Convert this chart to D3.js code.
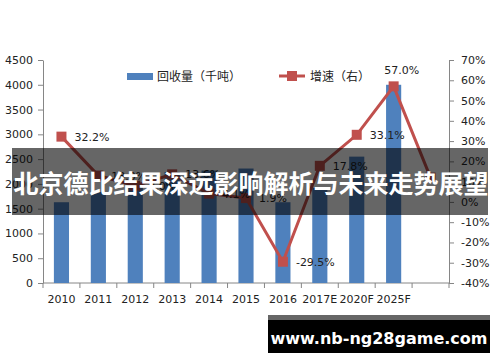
<!DOCTYPE html>
<html lang="zh">
<head>
<meta charset="utf-8">
<title>回收量与增速</title>
<script src="https://d3js.org/d3.v7.min.js"></script>
<style>
  body { margin: 0; background: #fff; }
  svg text { font-family: "DejaVu Sans", sans-serif; fill: #222; }
  .cjk { font-family: "Noto Sans CJK SC", sans-serif; }
  .axis path, .axis line { stroke: #868686; }
</style>
</head>
<body>
<script>
// data (the last slot has no label and no bar)
const years = ["2010", "2011", "2012", "2013", "2014", "2015", "2016", "2017E", "2020F", "2025F", ""];
const volume = [1630, 1840, 1990, 2240, 2270, 2310, 1630, 1920, 2550, 4000, null];
const growth = [32.2, 13.0, 8.0, 13.6, 4.1, 1.9, -29.5, 17.8, 33.1, 57.0, 12.0];
const leftTicks = [0, 500, 1000, 1500, 2000, 2500, 3000, 3500, 4000, 4500];
const rightTicks = [-40, -30, -20, -10, 0, 10, 20, 30, 40, 50, 60, 70];

const w = 500, h = 362;
const plotL = 43, plotR = 449, plotT = 60, plotB = 283;

const svg = d3.select("body").append("svg")
    .attr("width", w)
    .attr("height", h);

const x = d3.scaleBand()
    .domain(d3.range(years.length))
    .range([plotL, plotR]);

const yL = d3.scaleLinear().domain([0, 4500]).range([plotB, plotT]);
const yR = d3.scaleLinear().domain([-40, 70]).range([plotB, plotT]);

//axes
const leftAxis = d3.axisLeft(yL).tickValues(leftTicks).tickFormat(d3.format("d"))
    .tickSize(5).tickPadding(5).tickSizeOuter(0);
svg.append("g")
    .attr("class", "axis")
    .attr("transform", "translate(" + plotL + ",0)")
    .call(leftAxis)
    .selectAll("text").attr("font-size", 11);

const rightAxis = d3.axisRight(yR).tickValues(rightTicks).tickFormat(d => d + "%")
    .tickSize(5).tickPadding(7).tickSizeOuter(0);
svg.append("g")
    .attr("class", "axis")
    .attr("transform", "translate(" + plotR + ",0)")
    .call(rightAxis)
    .selectAll("text").attr("font-size", 11);

const bottomAxis = d3.axisBottom(x).tickFormat(i => years[i]).tickSize(0).tickPadding(12);
const gx = svg.append("g")
    .attr("class", "axis")
    .attr("transform", "translate(0," + plotB + ")")
    .call(bottomAxis);
gx.selectAll("text").attr("font-size", 11);
gx.select(".domain").attr("d", "M" + plotL + ",0H" + plotR);
// tick marks on category boundaries
gx.selectAll(".sep")
    .data(d3.range(years.length + 1))
    .join("line")
    .attr("class", "sep")
    .attr("x1", i => plotL + i * x.step())
    .attr("x2", i => plotL + i * x.step())
    .attr("y1", 0).attr("y2", 5)
    .attr("stroke", "#868686");

//bars
const bw = x.bandwidth() * 0.41;
svg.append("g")
    .selectAll("rect")
    .data(volume.map((v, i) => ({ v, i })).filter(d => d.v != null))
    .join("rect")
    .attr("x", d => x(d.i) + x.bandwidth() / 2 - bw / 2)
    .attr("width", bw)
    .attr("y", d => yL(d.v))
    .attr("height", d => plotB - yL(d.v))
    .attr("fill", "#4f81bd");

//growth line
const cx = i => x(i) + x.bandwidth() / 2;
const line = d3.line()
    .x((d, i) => cx(i))
    .y(d => yR(d));

svg.append("path")
    .attr("d", line(growth))
    .attr("fill", "none")
    .attr("stroke", "#c0504d")
    .attr("stroke-width", 3);

svg.append("g")
    .selectAll("rect")
    .data(growth)
    .join("rect")
    .attr("x", (d, i) => cx(i) - 5)
    .attr("y", d => yR(d) - 5)
    .attr("width", 10)
    .attr("height", 10)
    .attr("fill", "#c0504d");

// point labels, right of the marker except the top one
svg.append("g")
    .selectAll("text")
    .data(growth.slice(0, 10))
    .join("text")
    .attr("font-size", 11)
    .attr("x", (d, i) => i === 9 ? cx(i) + 8 : cx(i) + 13)
    .attr("y", (d, i) => i === 9 ? yR(d) - 12 : yR(d) + 4)
    .attr("text-anchor", (d, i) => i === 9 ? "middle" : "start")
    .text(d => d.toFixed(1) + "%");

//legend
const lg = svg.append("g");
lg.append("rect").attr("x", 127).attr("y", 73).attr("width", 26).attr("height", 7).attr("fill", "#4f81bd");
lg.append("text").attr("class", "cjk").attr("x", 157).attr("y", 81).attr("font-size", 12).text("回收量（千吨）");
lg.append("line").attr("x1", 279).attr("x2", 305).attr("y1", 76).attr("y2", 76)
    .attr("stroke", "#c0504d").attr("stroke-width", 3);
lg.append("rect").attr("x", 287).attr("y", 71).attr("width", 10).attr("height", 10).attr("fill", "#c0504d");
lg.append("text").attr("class", "cjk").attr("x", 310).attr("y", 81).attr("font-size", 12).text("增速（右）");

//dark title band laid over the chart
svg.append("rect")
    .attr("x", 12).attr("y", 148).attr("width", 476).attr("height", 67)
    .attr("fill", "rgba(0,0,0,0.6)");
svg.append("text")
    .attr("class", "cjk")
    .attr("x", 251).attr("y", 193)
    .attr("text-anchor", "middle")
    .attr("font-size", 25)
    .attr("font-weight", "bold")
    .style("fill", "#fff")
    .text("北京德比结果深远影响解析与未来走势展望");

//watermark box
svg.append("rect").attr("x", 268).attr("y", 315).attr("width", 222).attr("height", 38).attr("fill", "#000");
svg.append("rect").attr("x", 268).attr("y", 315).attr("width", 222).attr("height", 5).attr("fill", "#666");
svg.append("text")
    .attr("x", 379).attr("y", 344)
    .attr("text-anchor", "middle")
    .attr("font-size", 16)
    .attr("font-weight", "bold")
    .style("fill", "#fff")
    .text("www.nb-ng28game.com");
</script>
</body>
</html>
